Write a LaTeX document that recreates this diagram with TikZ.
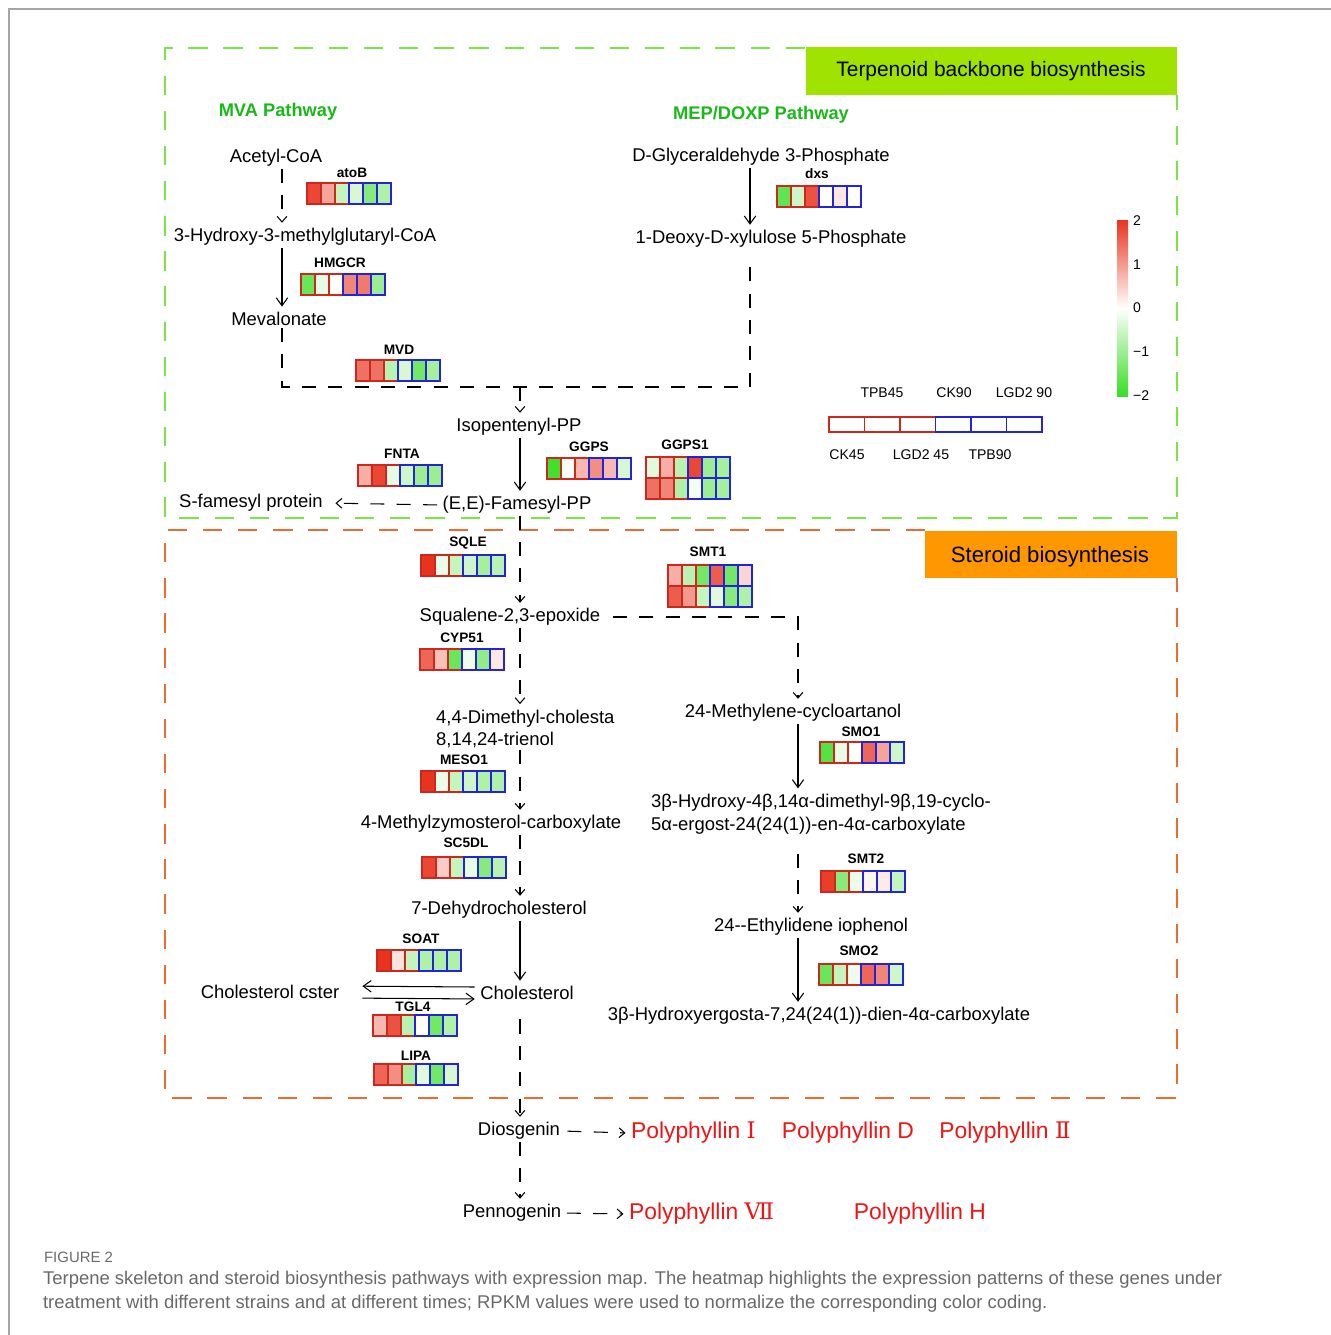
\documentclass[tikz,border=0pt]{standalone}
\usepackage{fontspec}
\setmainfont{Liberation Sans}
\newfontfamily\numfont{DejaVu Serif}
\usetikzlibrary{arrows.meta}

\definecolor{hr}{RGB}{232,52,30}
\definecolor{hg}{RGB}{55,222,35}
\definecolor{cellred}{RGB}{205,40,30}
\definecolor{cellblue}{RGB}{35,35,215}
\definecolor{pathgreen}{RGB}{25,185,25}
\definecolor{boxgreen}{RGB}{125,228,70}
\definecolor{boxorange}{RGB}{236,108,48}
\definecolor{titlegreen}{RGB}{160,226,0}
\definecolor{titleorange}{RGB}{255,152,0}
\definecolor{prodred}{RGB}{240,20,20}
\definecolor{capgray}{RGB}{105,105,105}

% one row of six heatmap cells, #1,#2 = top left corner
\newcommand{\hmrow}[3]{%
  \foreach \hcol [count=\i] in {#3} {
    \ifnum\i<4 \def\bc{cellred}\else\def\bc{cellblue}\fi
    \draw[draw=\bc, fill=\hcol, line width=0.8pt] ({#1+(\i-1)*14},#2) rectangle ++(14,21);
  }%
}

\begin{document}
\begin{tikzpicture}[x=0.02cm, y=-0.02cm,
    every node/.style={inner sep=1pt},
    chem/.style={font=\fontsize{10.5}{13}\selectfont},
    gene/.style={font=\bfseries\fontsize{7.8}{9}\selectfont},
    pathway/.style={font=\bfseries\fontsize{10.4}{12}\selectfont, text=pathgreen},
    prod/.style={font=\fontsize{13}{15}\selectfont, text=prodred},
    legendtext/.style={font=\fontsize{8}{9}\selectfont},
    solidarr/.style={-{Straight Barb[length=4.5pt,width=6.5pt]}, line width=0.6pt, shorten >=2pt},
    dasharr/.style={-{Straight Barb[length=3.2pt,width=5.5pt]}, line width=0.6pt, dash pattern=on 8pt off 7pt, shorten >=2pt},
    dashline/.style={line width=0.6pt, dash pattern=on 8pt off 7pt},
    greenbox/.style={draw=boxgreen, line width=0.8pt, dash pattern=on 11pt off 9pt},
    orangebox/.style={draw=boxorange, line width=0.8pt, dash pattern=on 11pt off 9pt}]

    \useasboundingbox (0,0) rectangle (1331,1335);

    % Draw frame and section boxes
    \draw[gray!70, line width=0.8pt] (1331,9) -- (9,9) -- (9,1335);
    \draw[greenbox] (805,48) -- (165,48) -- (165,518) -- (1177,518) -- (1177,95);
    \fill[titlegreen] (806,47) rectangle (1177,95);
    \node[font=\fontsize{11.9}{14}\selectfont] (tbbtitle) at (991,71) {Terpenoid backbone biosynthesis};
    \draw[orangebox] (925,530) -- (165,530) -- (165,1098) -- (1177,1098) -- (1177,578);
    \fill[titleorange] (925,531) rectangle (1177,578);
    \node[font=\fontsize{12.6}{15}\selectfont] (sbtitle) at (1050,557) {Steroid biosynthesis};

    % Pathway labels
    \node[pathway] (mva) at (278,112) {MVA Pathway};
    \node[pathway] (mep) at (761,115) {MEP/DOXP Pathway};

    % Metabolites
    \node[chem] (acetyl) at (276,158) {Acetyl-CoA};
    \node[chem] (hmg) at (305,237) {3-Hydroxy-3-methylglutaryl-CoA};
    \node[chem] (meva) at (279,319) {Mevalonate};
    \node[chem] (gap) at (761,157) {D-Glyceraldehyde 3-Phosphate};
    \node[chem] (dxp) at (771,239) {1-Deoxy-D-xylulose 5-Phosphate};
    \node[chem] (ipp) at (519,427) {Isopentenyl-PP};
    \node[chem] (fpp) at (517,505) {(E,E)-Famesyl-PP};
    \node[chem] (sfp) at (251,503) {S-famesyl protein};
    \node[chem] (sqe) at (510,617) {Squalene-2,3-epoxide};
    \node[chem, align=left, anchor=west] (dmc) at (434,729) {4,4-Dimethyl-cholesta\\8,14,24-trienol};
    \node[chem] (mzc) at (491,824) {4-Methylzymosterol-carboxylate};
    \node[chem] (dhc) at (499,910) {7-Dehydrocholesterol};
    \node[chem] (chol) at (527,993) {Cholesterol};
    \node[chem] (cholest) at (270,992) {Cholesterol cster};
    \node[chem] (dios) at (519,1131) {Diosgenin};
    \node[chem] (penn) at (512,1213) {Pennogenin};
    \node[chem] (mca) at (793,713) {24-Methylene-cycloartanol};
    \node[chem, align=left, anchor=west] (hdmc) at (649,814) {3β-Hydroxy-4β,14α-dimethyl-9β,19-cyclo-\\5α-ergost-24(24(1))-en-4α-carboxylate};
    \node[chem] (eth) at (811,927) {24-{}-Ethylidene iophenol};
    \node[chem] (hedc) at (819,1016) {3β-Hydroxyergosta-7,24(24(1))-dien-4α-carboxylate};

    % Products
    \node[prod, anchor=west] (pp1) at (629,1133) {Polyphyllin {\numfont Ⅰ}};
    \node[prod] (ppd) at (848,1133) {Polyphyllin D};
    \node[prod] (pp2) at (1005,1133) {Polyphyllin {\numfont Ⅱ}};
    \node[prod, anchor=west] (pp7) at (627,1214) {Polyphyllin {\numfont Ⅶ}};
    \node[prod] (pph) at (920,1214) {Polyphyllin H};

    % Genes with expression maps
    \node[gene] (atoB) at (352,173) {atoB};
    \hmrow{307}{183}{hr!90, hr!45, hg!30, hg!20, hg!60, hg!40}
    \node[gene] (hmgcr) at (340,263) {HMGCR};
    \hmrow{301}{274}{hg!75, hg!12, white, hr!60, hr!65, hg!50}
    \node[gene] (mvd) at (399,350) {MVD};
    \hmrow{356}{360}{hr!70, hr!70, hg!35, hg!20, hg!70, hg!45}
    \node[gene] (dxs) at (817,174) {dxs};
    \hmrow{777}{186}{hg!80, hg!25, hr!85, white, hr!12, white}
    \node[gene] (fnta) at (402,454) {FNTA};
    \hmrow{358}{465}{hr!40, hr!90, hg!12, hg!25, hg!50, hg!50}
    \node[gene] (ggps) at (589,447) {GGPS};
    \hmrow{547}{458}{hg!95, hg!5, hr!35, hr!55, hr!35, hg!20}
    \node[gene] (ggps1) at (685,445) {GGPS1};
    \hmrow{646}{457}{hg!15, hr!40, hg!35, hr!90, hg!50, hg!45}
    \hmrow{646}{478}{hr!70, hr!60, hg!40, hg!5, hg!50, hg!45}
    \node[gene] (sqle) at (468,543) {SQLE};
    \hmrow{421}{555}{hr!100, hg!10, hg!30, hg!25, hg!45, hg!35}
    \node[gene] (smt1) at (708,552) {SMT1};
    \hmrow{668}{565}{hr!40, hg!35, hg!70, hr!80, hg!70, hr!20}
    \hmrow{668}{586}{hr!80, hr!50, hg!30, hg!15, hg!60, hg!40}
    \node[gene] (cyp51) at (462,638) {CYP51};
    \hmrow{420}{649}{hr!75, hr!30, hg!75, hg!8, hg!55, hr!12}
    \node[gene] (meso1) at (464,760) {MESO1};
    \hmrow{421}{771}{hr!100, hg!10, hg!30, hg!25, hg!40, hg!40}
    \node[gene] (sc5dl) at (466,843) {SC5DL};
    \hmrow{422}{857}{hr!90, hr!25, hg!30, hg!12, hg!60, hg!35}
    \node[gene] (soat) at (421,939) {SOAT};
    \hmrow{377}{950}{hr!100, hr!15, hg!30, hg!40, hg!40, hg!40}
    \node[gene] (tgl4) at (413,1007) {TGL4};
    \hmrow{373}{1015}{hr!35, hr!85, hg!35, white, hg!70, hg!40}
    \node[gene] (lipa) at (416,1056) {LIPA};
    \hmrow{374}{1064}{hr!75, hr!55, hg!45, hg!15, hg!70, hg!20}
    \node[gene] (smo1) at (861,732) {SMO1};
    \hmrow{820}{742}{hg!85, hg!12, white, hr!75, hr!45, hg!25}
    \node[gene] (smt2) at (866,859) {SMT2};
    \hmrow{821}{871}{hr!95, hg!60, hg!10, hr!5, hr!10, hg!30}
    \node[gene] (smo2) at (859,951) {SMO2};
    \hmrow{819}{964}{hg!75, hg!30, hg!8, hr!75, hr!60, hg!25}

    % Legend: sample order and colour scale
    \foreach \i in {0,...,5} {
        \ifnum\i<3 \def\bc{cellred}\else\def\bc{cellblue}\fi
        \draw[draw=\bc, line width=0.8pt] ({829+\i*35.5},417) rectangle ++(35.5,15);
    }
    \node[legendtext] (tpb45) at (882,393) {TPB45};
    \node[legendtext] (ck90) at (954,393) {CK90};
    \node[legendtext] (lgd90) at (1024,393) {LGD2 90};
    \node[legendtext] (ck45) at (847,455) {CK45};
    \node[legendtext] (lgd45) at (921,455) {LGD2 45};
    \node[legendtext] (tpb90) at (990,455) {TPB90};
    \shade[top color=hr, bottom color=white] (1117,220) rectangle (1128,308);
    \shade[top color=white, bottom color=hg] (1117,308) rectangle (1128,396);
    \node[legendtext, anchor=west] (s2) at (1131,221) {2};
    \node[legendtext, anchor=west] (s1) at (1131,265) {1};
    \node[legendtext, anchor=west] (s0) at (1131,308) {0};
    \node[legendtext, anchor=west] (sm1) at (1131,352) {−1};
    \node[legendtext, anchor=west] (sm2) at (1131,396) {−2};

    % Connectors
    \coordinate (mvax) at (282,0);
    \coordinate (mepx) at (750,0);
    \coordinate (mainx) at (520,0);
    \coordinate (sidex) at (798,0);
    \coordinate (join) at (520,387);
    \draw[dasharr] (acetyl.south -| mvax) -- (hmg.north -| mvax);
    \draw[solidarr] (hmg.south -| mvax) -- (meva.north -| mvax);
    \draw[dashline] (meva.south -| mvax) |- (join);
    \draw[solidarr] (gap.south -| mepx) -- (dxp.north -| mepx);
    \draw[dashline, shorten <=10pt] (dxp.south -| mepx) |- (join);
    \draw[dasharr] (join) -- (ipp.north -| mainx);
    \draw[solidarr] (ipp.south -| mainx) -- (fpp.north -| mainx);
    \draw[dasharr, shorten <=2pt, shorten >=6pt] (fpp.west) -- (sfp.east);
    \draw[dasharr] (fpp.south -| mainx) -- (sqe.north -| mainx);
    \draw[dasharr, shorten <=6pt] (sqe.east) -| (mca.north -| sidex);
    \draw[dasharr] (sqe.south -| mainx) -- (dmc.north -| mainx);
    \draw[dasharr] (dmc.south -| mainx) -- (mzc.north -| mainx);
    \draw[dasharr] (mzc.south -| mainx) -- (dhc.north -| mainx);
    \draw[solidarr] (dhc.south -| mainx) -- (chol.north -| mainx);
    \draw[solidarr, shorten <=2pt, shorten >=12pt] ([yshift=3.4pt]chol.west) -- ([yshift=3.4pt]cholest.east);
    \draw[solidarr, shorten <=12pt] ([yshift=-3.4pt]cholest.east) -- ([yshift=-3.4pt]chol.west);
    \draw[dasharr, shorten <=10pt] (chol.south -| mainx) -- (dios.north -| mainx);
    \draw[dasharr] (dios.south -| mainx) -- (penn.north -| mainx);
    \draw[dasharr, shorten <=3pt] (dios.east) -- (pp1.west);
    \draw[dasharr, shorten <=2pt] (penn.east) -- (pp7.west);
    \draw[solidarr] (mca.south -| sidex) -- (hdmc.north -| sidex);
    \draw[dasharr, shorten <=10pt] (hdmc.south -| sidex) -- (eth.north -| sidex);
    \draw[solidarr] (eth.south -| sidex) -- (hedc.north -| sidex);

    % Caption
    \node[anchor=west, font=\fontsize{8.5}{10}\selectfont, text=capgray] (figlabel) at (42,1257) {FIGURE 2};
    \node[anchor=north west, align=left, font=\fontsize{10.5}{13.6}\selectfont, text=capgray] (caption) at (41,1269) {Terpene skeleton and steroid biosynthesis pathways with expression map. The heatmap highlights the expression patterns of these genes under\\treatment with different strains and at different times; RPKM values were used to normalize the corresponding color coding.};
\end{tikzpicture}
\end{document}
